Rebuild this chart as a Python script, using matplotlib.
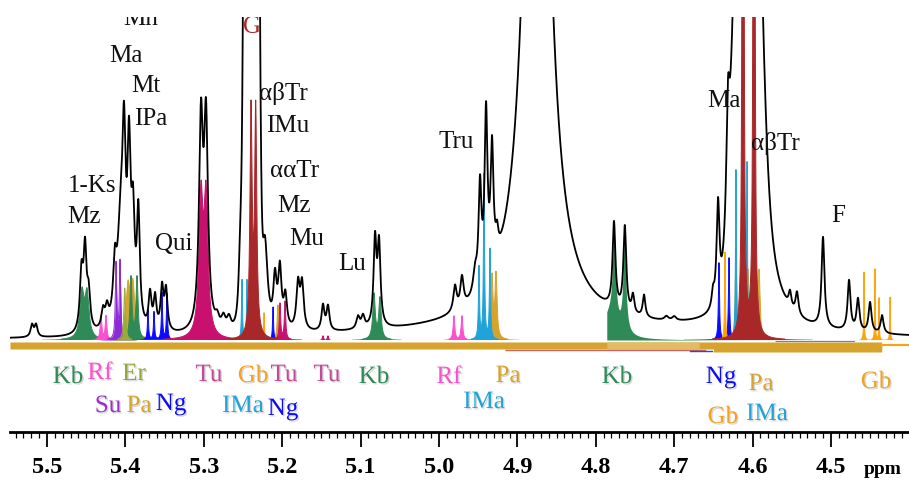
import numpy as np
import matplotlib
matplotlib.use("Agg")
import matplotlib.pyplot as plt
from matplotlib import patheffects
from matplotlib.ticker import MultipleLocator

# 1H NMR spectrum, anomeric region (ppm). Peaks read off the figure as
# (position ppm, height, half width). Heights in arbitrary units.
black_peaks = [
    (5.5191, 12, 0.0022), (5.5140, 12, 0.0022),
    (5.4560, 58, 0.0025), (5.4515, 76, 0.0022), (5.4470, 36, 0.0025),
    (5.4286, 18, 0.0025), (5.4235, 18, 0.0025),
    (5.4135, 50, 0.0025), (5.4060, 95, 0.0050), (5.4018, 150, 0.0025),
    (5.3954, 160, 0.0025), (5.3903, 95, 0.0025), (5.3835, 110, 0.0022),
    (5.3686, 35, 0.0022), (5.3622, 32, 0.0022), (5.3533, 42, 0.0022), (5.3482, 40, 0.0022),
    (5.3036, 200, 0.0030), (5.2972, 200, 0.0030),
    (5.2830, 10, 0.0030), (5.2750, 12, 0.0030), (5.2680, 12, 0.0030),
    (5.2535, 70, 0.0030), (5.2220, 90, 0.0040),
    (5.2092, 48, 0.0025), (5.2030, 58, 0.0025), (5.1960, 32, 0.0025),
    (5.1798, 45, 0.0025), (5.1747, 45, 0.0025),
    (5.1480, 25, 0.0022), (5.1416, 24, 0.0022),
    (5.1033, 12, 0.0025), (5.0970, 12, 0.0025),
    (5.0816, 85, 0.0022), (5.0765, 80, 0.0022),
    (4.9796, 25, 0.0025), (4.9707, 30, 0.0025),
    (4.9540, 20, 0.0030), (4.9477, 100, 0.0022), (4.9400, 165, 0.0022),
    (4.9324, 120, 0.0022), (4.9260, 20, 0.0020),
    (4.8750, 957, 0.0146),
    (4.7768, 85, 0.0022), (4.7630, 85, 0.0022), (4.7526, 18, 0.0020), (4.7385, 22, 0.0020),
    (4.7100, 4, 0.0030), (4.7000, 4, 0.0030),
    (4.6505, 15, 0.0020), (4.6441, 100, 0.0022), (4.6314, 110, 0.0025),
    (4.5950, 250, 0.0150),
    (4.5523, 15, 0.0020), (4.5434, 22, 0.0022),
    (4.5102, 90, 0.0022),
    (4.4770, 50, 0.0022), (4.4656, 32, 0.0022), (4.4502, 30, 0.0022), (4.4349, 18, 0.0022),
    (4.8500, 10, 0.2500),
]
# very tall lines, gaussian shaped cores
black_gauss = [(5.2392, 5000, 0.0046), (4.6085, 750, 0.0115)]

# reference compound spectra
pa_peaks = [(5.3967, 50, 0.0030), (5.3905, 52, 0.0030), (5.2054, 35, 0.0012),
            (4.9324, 62, 0.0015), (4.9273, 64, 0.0015),
            (4.6212, 92, 0.0010), (4.6059, 70, 0.0015), (4.5918, 70, 0.0015)]
kb_peaks = [(5.4554, 45, 0.0030), (5.4490, 44, 0.0030),
            (5.3929, 62, 0.0015), (5.3852, 62, 0.0015),
            (5.0829, 45, 0.0018), (5.0753, 41, 0.0018)]
kb2_peaks = [(4.7768, 90, 0.0022), (4.7635, 90, 0.0022), (4.7820, 25, 0.0120)]
kb2_start = 4.786
rf_peaks = [(5.4311, 24, 0.0012), (5.4247, 24, 0.0012), (4.9809, 24, 0.0012), (4.9707, 24, 0.0012)]
su_peaks = [(5.4120, 76, 0.0010), (5.4069, 78, 0.0010)]
er_peaks = [(5.4010, 52, 0.0012)]
ng_peaks = [(5.3712, 30, 0.0008), (5.3635, 28, 0.0008), (5.3533, 47, 0.0008), (5.3470, 46, 0.0008),
            (5.2117, 33, 0.0007), (4.6429, 77, 0.0008), (4.6301, 82, 0.0008)]
gb_peaks = [(5.2296, 26, 0.0006), (5.2232, 27, 0.0006), (4.6352, 88, 0.0006),
            (4.4579, 68, 0.0004), (4.4439, 71, 0.0004), (4.4388, 42, 0.0004), (4.4247, 43, 0.0004)]
ima_peaks = [(5.2513, 60, 0.0007), (5.2449, 60, 0.0007),
             (4.9490, 72, 0.0008), (4.9426, 165, 0.0008), (4.9350, 90, 0.0008),
             (4.6212, 170, 0.0007), (4.6071, 178, 0.0007)]
tu_peaks = [(5.3036, 135, 0.0030), (5.2972, 135, 0.0030), (5.2028, 36, 0.0010),
            (5.1964, 38, 0.0010), (5.1480, 4, 0.0008), (5.1416, 4, 0.0008)]
g_peaks = [(5.2398, 225, 0.0016), (5.2338, 225, 0.0016), (4.6122, 2000, 0.0007), (4.5982, 2000, 0.0007)]

# baseline strip under the spectra: (from ppm, to ppm, top, bottom)
band_main = (5.5472, 4.4353, -2, -9)
band_low = (4.6500, 4.4353, -4, -12)
band_light = (4.7860, 4.6680, -2, -9)

# labels: (text, ppm, baseline height)
top_labels = [
    ("Mn", 5.3800, 315), ("Ma", 5.3992, 278), ("Mt", 5.3737, 248), ("IPa", 5.3673, 215),
    ("1-Ks", 5.4426, 148), ("Mz", 5.4528, 117), ("Qui", 5.3380, 90),
    ("αβTr", 5.1990, 240), ("IMu", 5.1926, 208), ("ααTr", 5.1837, 163), ("Mz", 5.1850, 128),
    ("Mu", 5.1684, 95), ("Lu", 5.1110, 70), ("Tru", 4.9783, 192),
    ("Ma", 4.6365, 233), ("αβTr", 4.5714, 190), ("F", 4.4911, 118),
]
g_label = ("G", 5.2380, 307)
bottom_labels = [
    ("Kb", 5.4732, -43), ("Rf", 5.4324, -39), ("Er", 5.3890, -40), ("Tu", 5.2934, -41),
    ("Gb", 5.2372, -42), ("Tu", 5.1977, -41), ("Tu", 5.1429, -41), ("Kb", 5.0829, -43),
    ("Rf", 4.9872, -43), ("Pa", 4.9120, -42), ("Kb", 4.7730, -43), ("Ng", 4.6403, -43),
    ("Pa", 4.5893, -50), ("Gb", 4.4426, -48),
    ("Su", 5.4222, -72), ("Pa", 5.3827, -72), ("Ng", 5.3418, -70), ("IMa", 5.2500, -72),
    ("Ng", 5.1990, -75), ("IMa", 4.9425, -68), ("Gb", 4.6380, -83), ("IMa", 4.5816, -80),
]

peak_colors = {"Pa": "#d6a32c", "Kb": "#2e8b57", "Rf": "#ff4fd0", "Su": "#8e2ad6",
               "Er": "#9aab3a", "Ng": "#0a0aff", "Gb": "#ffa20a", "IMa": "#1fa3d8",
               "Tu": "#c8116e", "G": "#a8282a"}
label_colors = dict(peak_colors, Tu="#c24a98", Gb="#f5a020", Er="#8fa63a", Su="#9a30c8")


def lorentz(x, peaks):
    y = np.zeros_like(x)
    for p0, h, w in peaks:
        y += h * w**2 / ((x - p0)**2 + w**2)
    return y


def gauss(x, peaks):
    y = np.zeros_like(x)
    for p0, h, s in peaks:
        y += h * np.exp(-(x - p0)**2 / (2 * s**2))
    return y


ppm = np.linspace(5.5472, 4.4005, 24000)

fig = plt.figure(figsize=(9.09, 4.82), dpi=100)
ax = fig.add_axes([10 / 909, 50 / 482, 899 / 909, 415 / 482])
serif = "Liberation Serif"

# baseline strip
for lo, hi, top, bot in [band_main, band_low]:
    m = (ppm <= lo) & (ppm >= hi)
    ax.fill_between(ppm[m], bot, top, color="#d6a32c", lw=0, zorder=1)
m = (ppm <= band_light[0]) & (ppm >= band_light[1])
ax.fill_between(ppm[m], band_light[3], band_light[2], color="#e2bb62", lw=0, zorder=1)
m = (ppm <= 4.9145) & (ppm >= 4.66)
ax.plot(ppm[m], np.full(m.sum(), -10.5), color="#c86464", lw=1, zorder=1)
m = (ppm <= 4.68) & (ppm >= 4.652)
ax.plot(ppm[m], np.full(m.sum(), -11), color="#3040f0", lw=1, zorder=1)
m = (ppm <= 4.57) & (ppm >= 4.47)
ax.plot(ppm[m], np.full(m.sum(), -1.5), color="#9a60d8", lw=0.8, zorder=1)
m = ppm <= 4.4370
ax.plot(ppm[m], np.full(m.sum(), -5), color="#ffa20a", lw=1.5, zorder=1)

# reference compound spectra (filled)
groups = [("Pa", pa_peaks), ("Kb", kb_peaks), ("Rf", rf_peaks), ("Su", su_peaks),
          ("Er", er_peaks), ("Ng", ng_peaks), ("Gb", gb_peaks), ("IMa", ima_peaks),
          ("Tu", tu_peaks), ("G", g_peaks)]
for name, peaks in groups:
    y = lorentz(ppm, peaks)
    ax.fill_between(ppm, 0, y, where=y > 0.3, color=peak_colors[name], lw=0, zorder=2)
    ax.plot(ppm, np.where(y > 1.0, y, np.nan), color=peak_colors[name], lw=0.7, zorder=2)
y = lorentz(ppm, kb2_peaks)
ax.fill_between(ppm, 0, y, where=ppm <= kb2_start, color=peak_colors["Kb"], lw=0, zorder=2)

# honey spectrum
spec = lorentz(ppm, black_peaks) + gauss(ppm, black_gauss)
ax.plot(ppm, spec, color="black", lw=1.3, zorder=3)

for text, x, yb in top_labels:
    ax.text(x, yb, text, ha="center", va="baseline", fontsize=18, family=serif,
            color="#111111", zorder=4, clip_on=True)
ax.text(g_label[1], g_label[2], g_label[0], ha="center", va="baseline", fontsize=18,
        family=serif, color=label_colors["G"], zorder=4, clip_on=True)

shadow = [patheffects.withSimplePatchShadow(offset=(1, -1), shadow_rgbFace="#999999", alpha=0.4)]
for text, x, yb in bottom_labels:
    ax.text(x, yb, text, ha="center", va="baseline", fontsize=18, family=serif,
            color=label_colors[text], path_effects=shadow, zorder=4)

ax.set_xlim(5.5472, 4.4005)
ax.set_ylim(-92, 323)
ax.set_yticks([])
for side in ["top", "left", "right"]:
    ax.spines[side].set_visible(False)
ax.spines["bottom"].set_linewidth(2)
ax.xaxis.set_major_locator(MultipleLocator(0.1))
ax.xaxis.set_minor_locator(MultipleLocator(0.01))
ax.tick_params(axis="x", which="major", length=11, width=1.3, direction="out", pad=7)
ax.tick_params(axis="x", which="minor", length=4.5, width=0.9, direction="out")
ax.set_xticks([5.5, 5.4, 5.3, 5.2, 5.1, 5.0, 4.9, 4.8, 4.7, 4.6, 4.5])
ax.set_xticklabels(["5.5", "5.4", "5.3", "5.2", "5.1", "5.0", "4.9", "4.8", "4.7", "4.6", "4.5"],
                   fontsize=17.5, family=serif, fontweight="bold")
fig.text(883 / 909, 1 - 474 / 482, "ppm", ha="center", va="baseline", fontsize=14,
         family=serif, fontweight="bold")

fig.savefig("out.png", dpi=100)
